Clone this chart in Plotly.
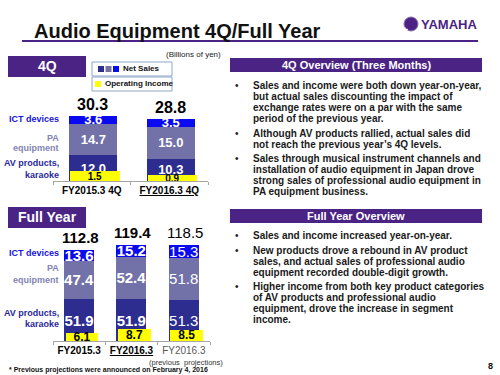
import plotly.graph_objects as go

W, H = 500, 375
def X(px): return px / W
def Y(py): return 1 - py / H

FONT = "Arial, 'Liberation Sans', sans-serif"

# ---- data ----
q_cats = ["<b>FY2015.3 4Q</b>", "<b><u>FY2016.3 4Q</u></b>"]
q_av = [12.0, 10.3]
q_pa = [14.7, 15.0]
q_ict = [3.6, 3.5]
q_total = [30.3, 28.8]
q_oi = [1.5, 0.9]

fy_cats = ["<b>FY2015.3</b>", "<b><u>FY2016.3</u></b>", "<span style='color:#595959'>FY2016.3</span>"]
fy_av = [51.9, 51.9, 51.3]
fy_pa = [47.4, 52.4, 51.8]
fy_ict = [13.6, 15.2, 15.3]
fy_total = [112.8, 119.4, 118.5]
fy_oi = [6.1, 8.7, 8.5]
fy_bold = [True, True, False]

C_AV = "#2D2D8F"
C_PA = "#7272A8"
C_ICT = "#0A0AF0"
C_OI = "#FFFF00"
PURPLE = "#4B2384"

def fmt(v, bold=True):
    s = f"{v:.1f}"
    return f"<b>{s}</b>" if bold else s

fig = go.Figure()

# 4Q stacked bars
for vals, col in [(q_av, C_AV), (q_pa, C_PA), (q_ict, C_ICT)]:
    fig.add_trace(go.Bar(x=q_cats, y=vals, marker=dict(color=col, line=dict(width=0)),
                         text=[fmt(v) for v in vals], textposition="inside",
                         insidetextanchor="middle", textangle=0, constraintext="none",
                         textfont=dict(family=FONT, size=13, color="white"),
                         width=0.62, offset=-0.29, xaxis="x", yaxis="y",
                         showlegend=False, hoverinfo="skip"))
fig.add_trace(go.Bar(x=q_cats, y=q_oi, marker=dict(color=C_OI, line=dict(width=0)),
                     text=[fmt(v) for v in q_oi], textposition="inside",
                     insidetextanchor="middle", textangle=0, constraintext="none",
                     textfont=dict(family=FONT, size=10, color="black"),
                     width=0.64, offset=-0.28, xaxis="x", yaxis="y2",
                     showlegend=False, hoverinfo="skip"))

# Full-year stacked bars
for vals, col in [(fy_av, C_AV), (fy_pa, C_PA), (fy_ict, C_ICT)]:
    fig.add_trace(go.Bar(x=fy_cats, y=vals, marker=dict(color=col, line=dict(width=0)),
                         text=[fmt(v, b) for v, b in zip(vals, fy_bold)], textposition="inside",
                         insidetextanchor="middle", textangle=0, constraintext="none",
                         textfont=dict(family=FONT, size=15, color="white"),
                         width=0.573, offset=-0.29, xaxis="x2", yaxis="y3",
                         showlegend=False, hoverinfo="skip"))
fig.add_trace(go.Bar(x=fy_cats, y=fy_oi, marker=dict(color=C_OI, line=dict(width=0)),
                     text=[fmt(v) for v in fy_oi], textposition="inside",
                     insidetextanchor="middle", textangle=0, constraintext="none",
                     textfont=dict(family=FONT, size=12, color="black"),
                     width=0.62, offset=-0.255, xaxis="x2", yaxis="y4",
                     showlegend=False, hoverinfo="skip"))

ann = []
# totals
for c, t in zip(q_cats, q_total):
    ann.append(dict(x=c, y=t, xref="x", yref="y", text=fmt(t), showarrow=False,
                    yanchor="bottom", yshift=1, xshift=1,
                    font=dict(family=FONT, size=16, color="black")))
for c, t, b in zip(fy_cats, fy_total, fy_bold):
    ann.append(dict(x=c, y=t, xref="x2", yref="y3", text=fmt(t, b), showarrow=False,
                    yanchor="bottom", yshift=2, xshift=1,
                    font=dict(family=FONT, size=15, color="black")))

def txt(x, y, s, size=10, color="#1a1a1a", anchor="left", bold=True, family=FONT):
    ann.append(dict(x=X(x), y=Y(y), xref="paper", yref="paper",
                    text=f"<b>{s}</b>" if bold else s, showarrow=False,
                    xanchor=anchor, yanchor="middle",
                    font=dict(family=family, size=size, color=color)))

# title
txt(32, 31, "Audio Equipment 4Q/Full Year", size=20, color="#111111")
txt(479, 24, "YAMAHA", size=13, color=PURPLE, anchor="right")
txt(193, 54, "(Billions of yen)", size=8, color="#222222", anchor="center", bold=False)

# row labels
C_ICT_T = "#1515E0"
C_PA_T = "#8484B4"
C_AV_T = "#2A2A9A"
for (y1, y2, y3, y4, y5) in [(119, 138, 148, 163, 175), (253, 268, 280, 313, 324)]:
    txt(61, y1, "ICT devices", size=9, color=C_ICT_T, anchor="right")
    txt(61, y2, "PA", size=9, color=C_PA_T, anchor="right")
    txt(61, y3, "equipment", size=9, color=C_PA_T, anchor="right")
    txt(61, y4, "AV products,", size=9, color=C_AV_T, anchor="right")
    txt(61, y5, "karaoke", size=9, color=C_AV_T, anchor="right")

# section boxes
txt(47, 66, "4Q", size=14, color="white", anchor="center")
txt(47, 217, "Full Year", size=14, color="white", anchor="center")
txt(356, 65, "4Q Overview (Three Months)", size=11, color="white", anchor="center")
txt(356, 216, "Full Year Overview", size=11, color="white", anchor="center")

# legend text
txt(121, 69, "Net Sales", size=8, color="#111111")
txt(103, 84, "Operating Income", size=8, color="#111111")

# bullets
q_lines = [(85, True, "Sales and income were both down year-on-year,"),
           (96.5, False, "but actual sales discounting the impact of"),
           (107.5, False, "exchange rates were on a par with the same"),
           (118.5, False, "period of the previous year."),
           (133, True, "Although AV products rallied, actual sales did"),
           (144, False, "not reach the previous year’s 4Q levels."),
           (158.5, True, "Sales through musical instrument channels and"),
           (169.5, False, "installation of audio equipment in Japan drove"),
           (180.5, False, "strong sales of professional audio equipment in"),
           (191.5, False, "PA equipment business.")]
f_lines = [(235, True, "Sales and income increased year-on-year."),
           (250, True, "New products drove a rebound in AV product"),
           (261, False, "sales, and actual sales of professional audio"),
           (272, False, "equipment recorded double-digit growth."),
           (286.5, True, "Higher income from both key product categories"),
           (297.5, False, "of AV products and professional audio"),
           (308.5, False, "equipment, drove the increase in segment"),
           (319.5, False, "income.")]
for y, bullet, s in q_lines + f_lines:
    if bullet:
        txt(237, y, "•", size=10, color="#1a1a1a", anchor="center", bold=False)
    txt(251, y, s, size=10, color="#1a1a1a")

txt(186, 362, "(previous  projections)", size=7.5, color="#333333", anchor="center", bold=False)
txt(7, 370, "* Previous projections were announced on February 4, 2016", size=7, color="#111111")
txt(495, 366, "8", size=9, color="#111111", anchor="right")

shapes = []
def rect(x0, y0, x1, y1, fill, line=None, lw=0):
    shapes.append(dict(type="rect", xref="paper", yref="paper", x0=X(x0), x1=X(x1),
                       y0=Y(y1), y1=Y(y0), fillcolor=fill,
                       line=dict(color=line or fill, width=lw), layer="below"))
def hline(x0, x1, y, col, w):
    shapes.append(dict(type="line", xref="paper", yref="paper", x0=X(x0), x1=X(x1),
                       y0=Y(y), y1=Y(y), line=dict(color=col, width=w)))

hline(22, 478, 41, PURPLE, 2)
rect(8, 56, 86, 77, PURPLE)
rect(8, 207, 86, 228, PURPLE)
rect(230, 58, 482, 72, PURPLE)
rect(230, 209, 482, 223, PURPLE)
# legend boxes
rect(92, 62, 172, 76, "white", "#8FA8C8", 1)
rect(92, 77, 172, 91, "white", "#8FA8C8", 1)
for i, col in enumerate([C_AV, C_PA, C_ICT]):
    rect(98 + i * 7.5, 66, 104 + i * 7.5, 72, col)
rect(95, 81, 101, 87, C_OI)
# logo emblem
shapes.append(dict(type="circle", xref="paper", yref="paper", x0=X(404), x1=X(418),
                   y0=Y(31), y1=Y(17), fillcolor=PURPLE, line=dict(color="#8a6fb0", width=1)))
ann.append(dict(x=X(411), y=Y(24), xref="paper", yref="paper", text="✻", showarrow=False,
                font=dict(family="DejaVu Sans", size=9, color="white")))

axis_common = dict(type="category", showline=True, linecolor="#A6A6A6", linewidth=1,
                   ticks="outside", tickson="boundaries", ticklen=3, tickcolor="#A6A6A6",
                   showgrid=False, zeroline=False, fixedrange=True, tickangle=0)

fig.update_layout(
    width=W, height=H, autosize=False,
    margin=dict(l=0, r=0, t=0, b=0),
    paper_bgcolor="white", plot_bgcolor="rgba(0,0,0,0)",
    barmode="stack", bargap=0.38,
    font=dict(family=FONT, color="black"),
    xaxis=dict(domain=[X(53), X(208)], anchor="y",
               tickfont=dict(family=FONT, size=10, color="black"), **axis_common),
    yaxis=dict(domain=[Y(181), Y(100)], range=[0, 81 / 2.145], visible=False),
    yaxis2=dict(overlaying="y", range=[0, 81 / 6.67], visible=False),
    xaxis2=dict(domain=[X(53), X(210)], anchor="y3",
                tickfont=dict(family=FONT, size=10, color="black"), **axis_common),
    yaxis3=dict(domain=[Y(341), Y(230)], range=[0, 111 / 0.807], visible=False),
    yaxis4=dict(overlaying="y3", range=[0, 111 / 1.35], visible=False),
    annotations=ann, shapes=shapes,
)

fig.write_html("out.html", config={"displayModeBar": False},
               post_script="document.body.style.margin='0';")
